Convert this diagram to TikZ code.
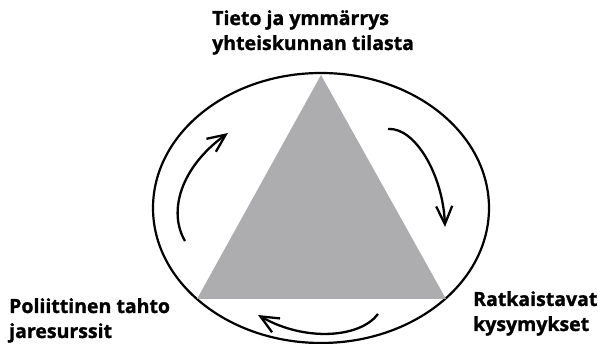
\documentclass[tikz,border=0pt]{standalone}
\usepackage{fontspec}
\setmainfont{Open Sans}[BoldFeatures={FakeBold=1.2}]
\usetikzlibrary{arrows.meta}
\definecolor{trigray}{RGB}{173,173,176}
\tikzset{
  lbl/.style={anchor=base west, align=left, inner sep=0pt, font=\fontsize{19.5}{25}\selectfont\bfseries},
  cyc/.style={line width=2.3pt, -{Straight Barb[length=18pt, width=16pt]}},
  rim/.style={line width=2.2pt},
}
\begin{document}
\begin{tikzpicture}[x=1pt, y=-1pt]
\path[use as bounding box] (0,0) rectangle (598,344);
% ellipse
\draw[rim] (321,208) ellipse [x radius=168, y radius=135];
% triangle
\coordinate (A) at (321,75);
\coordinate (B) at (197,299);
\coordinate (C) at (446,299);
\fill[trigray] (A) -- (C) -- (B) -- cycle;
% arrows
\coordinate (r0) at (388,129);
\coordinate (r1) at (445,227);
\draw[cyc] (r0) .. controls (415,127) and (443,175) .. (r1);
\coordinate (b0) at (378,314);
\coordinate (b1) at (258,315);
\draw[cyc] (b0) .. controls (360,338) and (305,342) .. (b1);
\coordinate (l0) at (185,241);
\coordinate (l1) at (228,133);
\draw[cyc] (l0) .. controls (168,212) and (180,168) .. (l1);
% labels (anchored at the baseline of the last line)
\node[lbl] (top) at (212,50) {Tieto ja ymmärrys\\yhteiskunnan tilasta};
\node[lbl] (left) at (9,338) {Poliittinen tahto\\jaresurssit};
\node[lbl] (right) at (473,331) {Ratkaistavat\\kysymykset};
\end{tikzpicture}
\end{document}
